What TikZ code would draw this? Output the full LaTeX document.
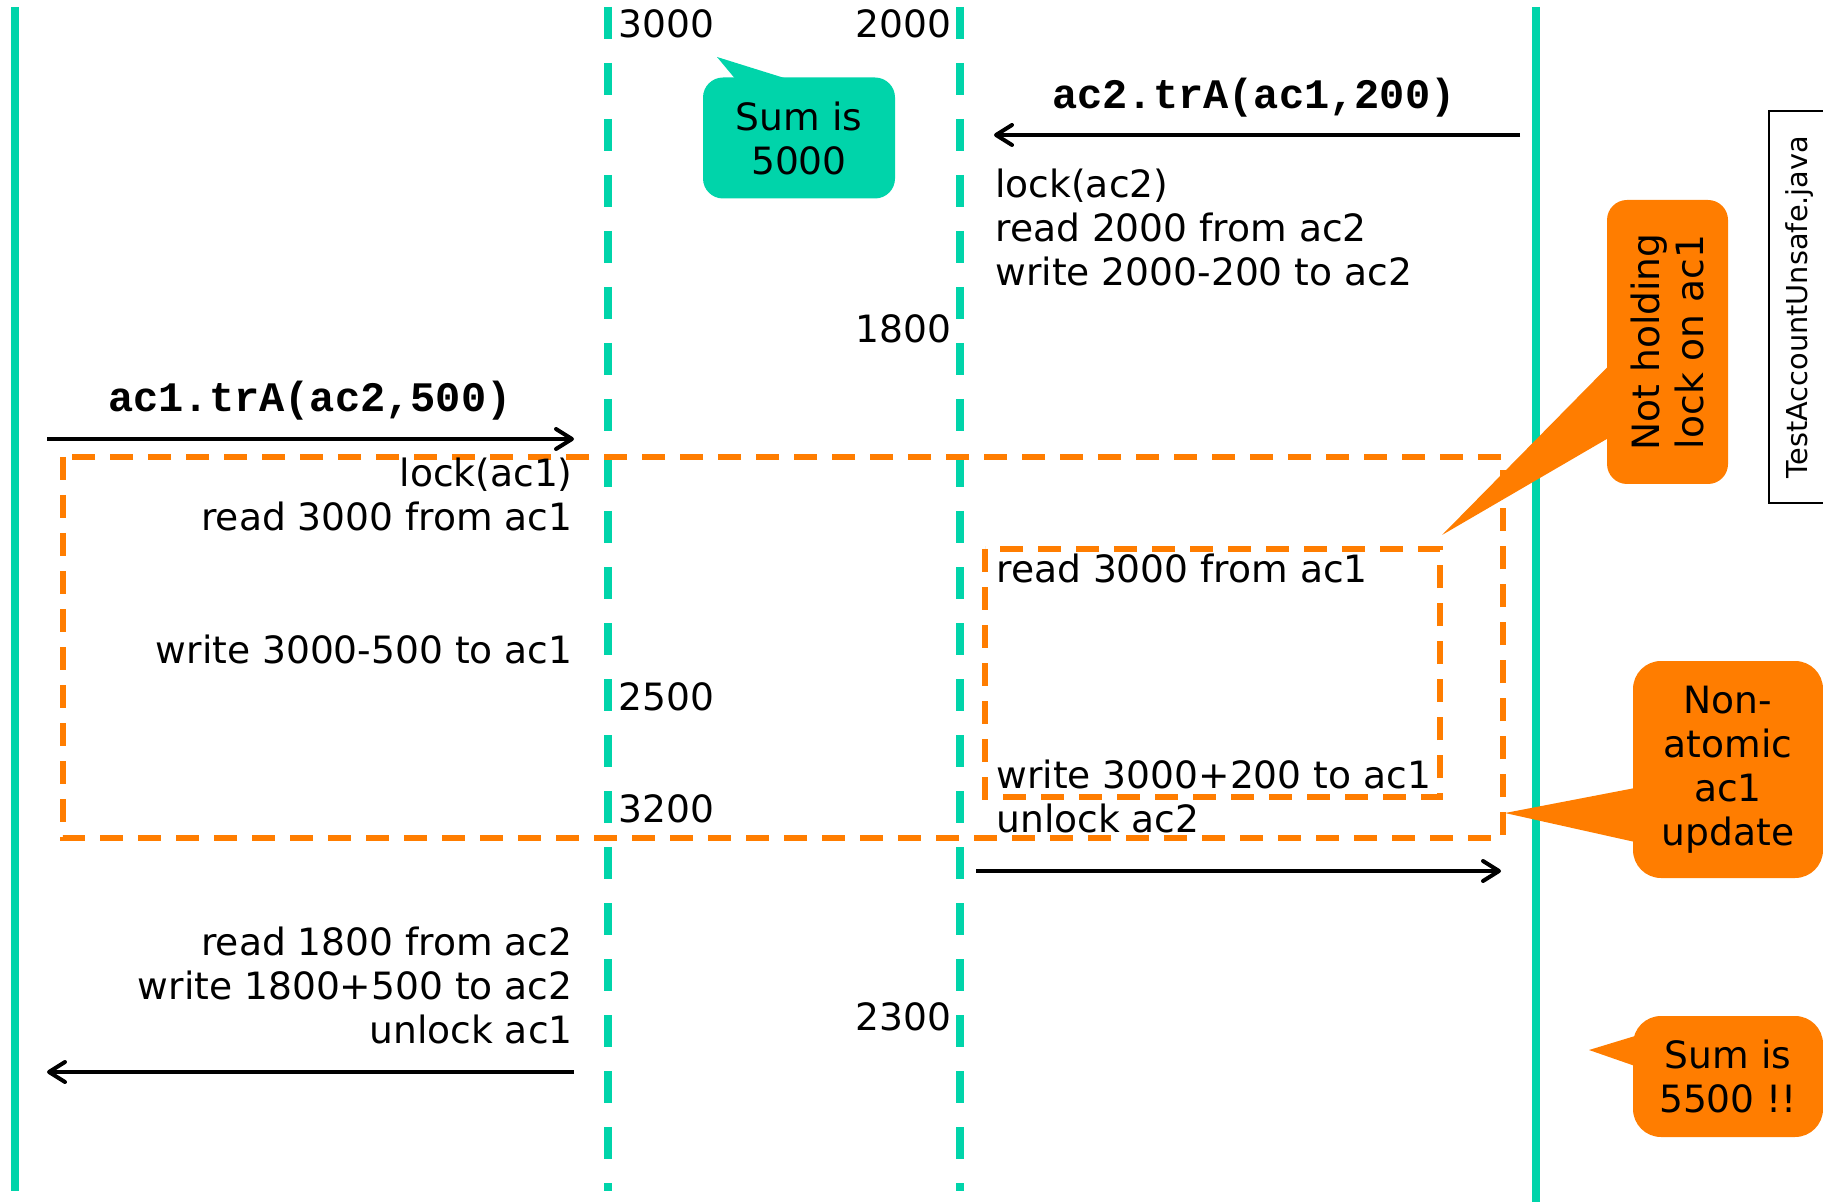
\documentclass[tikz,border=0pt]{standalone}
\usepackage{fontspec}
\setmainfont{DejaVu Sans}
\setmonofont{Liberation Mono}
\usetikzlibrary{arrows.meta,calc}
\definecolor{lifeteal}{RGB}{0,212,170}
\definecolor{warnorange}{RGB}{255,125,0}
\tikzset{
  life/.style={lifeteal,line width=4pt},
  lifedash/.style={lifeteal,line width=4pt,dash pattern=on 16pt off 12pt},
  critbox/.style={warnorange,line width=2.75pt,dash pattern=on 11.5pt off 7.5pt},
  msg/.style={black,line width=2pt},
  txt/.style={inner sep=0pt,font=\fontsize{18.8}{22}\selectfont},
  code/.style={inner sep=0pt,font=\ttfamily\bfseries\fontsize{21}{25}\selectfont},
  tealnote/.style={txt,fill=lifeteal,rounded corners=10pt,align=center},
  warnnote/.style={txt,fill=warnorange,rounded corners=14pt,align=center}
}
\begin{document}
\begin{tikzpicture}[x=0.5pt,y=-0.5pt,>={Straight Barb[length=8pt,width=10pt,round]}]
\useasboundingbox (0,0) rectangle (1823,1202);
% lifelines
\coordinate (th1top) at (15,7);
\coordinate (th1bot) at (15,1191);
\coordinate (ac1top) at (607.5,7);
\coordinate (ac1bot) at (607.5,1191);
\coordinate (ac2top) at (959.5,7);
\coordinate (ac2bot) at (959.5,1191);
\coordinate (th2top) at (1536,7);
\coordinate (th2bot) at (1536,1202);
\draw[life] (th1top)--(th1bot);
\draw[lifedash] (ac1top)--(ac1bot);
\draw[lifedash] (ac2top)--(ac2bot);
\draw[life] (th2top)--(th2bot);
% critical regions
\draw[critbox] (63,457) rectangle (1503,838);
\draw[critbox] (985,549) rectangle (1440,797);
% balances
\node[txt,anchor=base west] (bal3000) at (618,38) {3000};
\node[txt,anchor=base east] (bal2000) at (952,38) {2000};
\node[txt,anchor=base east] (bal1800) at (952,343) {1800};
\node[txt,anchor=base west] (bal2500) at (618,710) {2500};
\node[txt,anchor=base west] (bal3200) at (618,822) {3200};
\node[txt,anchor=base east] (bal2300) at (952,1030) {2300};
% thread 2
\node[code] (call2) at (1254,98) {ac2.trA(ac1,200)};
\coordinate (call2s) at (1520,135);
\coordinate (call2e) at (994,135);
\draw[msg,->] (call2s)--(call2e);
\node[txt,anchor=north west,align=left] (steps2a) at (995,169) {lock(ac2)\\read 2000 from ac2\\write 2000-200 to ac2};
\node[txt,anchor=base west] (steps2b) at (996,582) {read 3000 from ac1};
\node[txt,anchor=north west,align=left] (steps2c) at (996,760) {write 3000+200 to ac1\\unlock ac2};
\coordinate (ret2s) at (976,871);
\coordinate (ret2e) at (1501,871);
\draw[msg,->] (ret2s)--(ret2e);
% thread 1
\node[code] (call1) at (310,401) {ac1.trA(ac2,500)};
\coordinate (call1s) at (47,439);
\coordinate (call1e) at (574,439);
\draw[msg,->] (call1s)--(call1e);
\node[txt,anchor=north east,align=right] (steps1a) at (573,458) {lock(ac1)\\read 3000 from ac1};
\node[txt,anchor=base east] (steps1b) at (573,663) {write 3000-500 to ac1};
\node[txt,anchor=north east,align=right] (steps1c) at (573,927) {read 1800 from ac2\\write 1800+500 to ac2\\unlock ac1};
\coordinate (ret1s) at (574,1072);
\coordinate (ret1e) at (47,1072);
\draw[msg,->] (ret1s)--(ret1e);
% notes
\node[tealnote,minimum width=96pt,minimum height=60.5pt] (sum1) at (799,138) {Sum is\\5000};
\coordinate (sum1tip) at (717,57);
\fill[lifeteal] (sum1tip)--($(sum1.north west)+(32,1)$)--($(sum1.north west)+(82,1)$)--cycle;
\node[warnnote,rounded corners=10pt,rotate=90,minimum width=142pt,minimum height=60.5pt] (nohold) at (1667.5,342) {Not holding\\lock on ac1};
\coordinate (noholdtip) at (1442,535);
\fill[warnorange] (noholdtip)--($(nohold.center)+(-59,24)$)--($(nohold.center)+(-59,96)$)--cycle;
\node[warnnote,minimum width=95pt,minimum height=108.5pt] (nonatom) at (1728,769.5) {Non-\\atomic\\ac1\\update};
\coordinate (nonatomtip) at (1505,813);
\fill[warnorange] (nonatomtip)--($(nonatom.center)+(-93,18.5)$)--($(nonatom.center)+(-93,72.5)$)--cycle;
\node[warnnote,minimum width=95pt,minimum height=60.5pt] (sum2) at (1728,1076.5) {Sum is\\5500 !!};
\coordinate (sum2tip) at (1589,1050);
\fill[warnorange] (sum2tip)--($(sum2.center)+(-93,-40.5)$)--($(sum2.center)+(-93,-10.5)$)--cycle;
\node[draw=black,line width=0.75pt,rotate=90,inner sep=0pt,minimum width=196pt,minimum height=30.5pt,font=\fontsize{14.4}{17}\selectfont] (javafile) at (1799.5,307) {TestAccountUnsafe.java};
\end{tikzpicture}
\end{document}
